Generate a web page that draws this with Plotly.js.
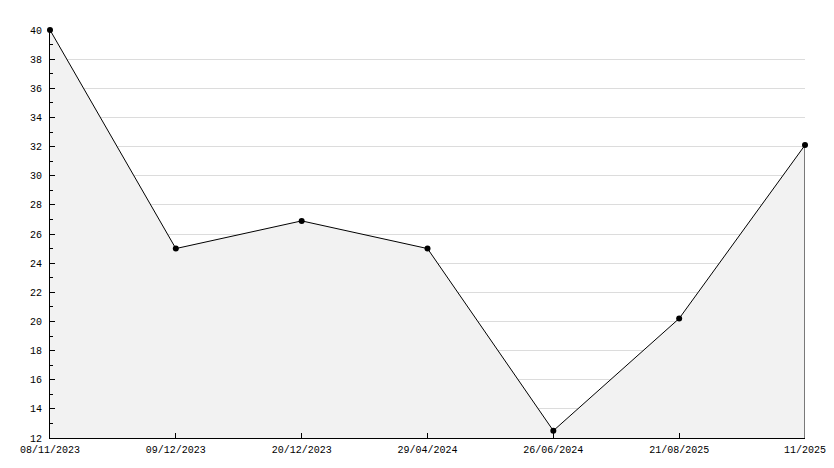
<!DOCTYPE html>
<html>
<head>
<meta charset="utf-8">
<script src="https://cdn.plot.ly/plotly-3.0.1.min.js"></script>
<style>html,body{margin:0;padding:0;background:#fff;}#chart{width:834px;height:468px;}</style>
</head>
<body>
<div id="chart"></div>
<script>
const categories = ["08/11/2023", "09/12/2023", "20/12/2023", "29/04/2024", "26/06/2024", "21/08/2025", "11/2025"];
const values = [40, 25, 26.9, 25, 12.5, 20.2, 32.1];
const yMin = 12;
const yMax = 40;

const font = {family: "Liberation Mono, DejaVu Sans Mono, monospace", size: 10, color: "#000"};
const last = categories.length - 1;

const traces = [
  {
    x: categories, y: values, type: "scatter", mode: "lines+markers",
    fill: "tozeroy", fillcolor: "#f2f2f2",
    line: {color: "#000", width: 1},
    marker: {symbol: "circle", size: 6, color: "#000"},
    cliponaxis: false,
    hoverinfo: "x+y", showlegend: false
  },
  {
    x: [categories[last], categories[last]], y: [yMin, values[last]],
    type: "scatter", mode: "lines", line: {color: "#000", width: 1},
    hoverinfo: "skip", showlegend: false
  }
];

const layout = {
  width: 834, height: 468,
  margin: {l: 50, r: 29, t: 30, b: 30},
  paper_bgcolor: "#fff", plot_bgcolor: "#fff",
  font: font,
  showlegend: false,
  xaxis: {
    type: "category", range: [0, last],
    showgrid: false, zeroline: false,
    showline: true, linecolor: "#000", linewidth: 1,
    ticks: "inside", ticklen: 5, tickcolor: "#000",
    ticklabelstandoff: 2,
    tickfont: font, fixedrange: true
  },
  yaxis: {
    range: [yMin, yMax], dtick: 2, tick0: 0,
    showgrid: true, gridcolor: "#dcdcdc", gridwidth: 1,
    zeroline: false,
    showline: true, linecolor: "#000", linewidth: 1,
    ticks: "inside", ticklen: 5, tickcolor: "#000",
    ticklabelstandoff: 5,
    minor: {dtick: 1, ticks: "inside", ticklen: 3, tickcolor: "#000", showgrid: false},
    tickfont: font, fixedrange: true
  }
};

Plotly.newPlot("chart", traces, layout, {displayModeBar: false, staticPlot: true});
</script>
</body>
</html>
